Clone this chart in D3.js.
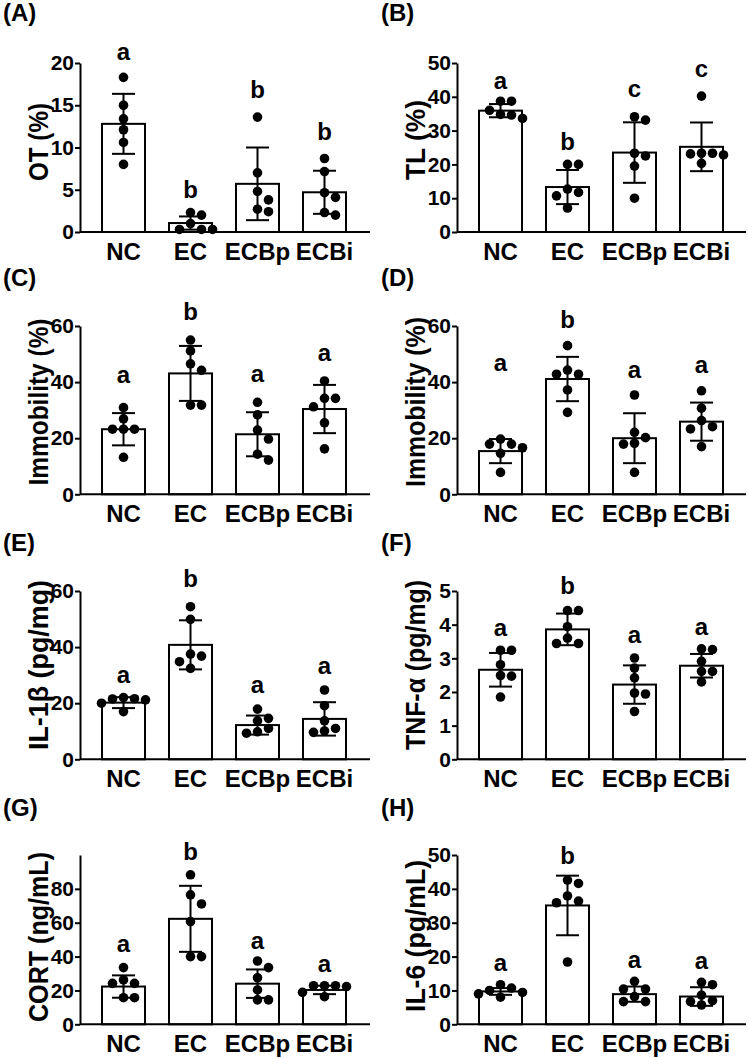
<!DOCTYPE html>
<html><head><meta charset="utf-8">
<script src="https://cdn.jsdelivr.net/npm/d3@7/dist/d3.min.js"></script>
<style>
body{margin:0;background:#fff}
svg{display:block}
text{font-family:"Liberation Sans",Arial,Helvetica,sans-serif;font-weight:bold;fill:#000}
</style>
</head><body>
<svg id="chart" width="749" height="1058"></svg>
<script>
// ---------- DATA ----------
const categories = ["NC", "EC", "ECBp", "ECBi"];
const panelTags = ["(A)", "(B)", "(C)", "(D)", "(E)", "(F)", "(G)", "(H)"];
const yTitles = ["OT (%)", "TL (%)", "Immobility (%)", "Immobility (%)", "IL-1β (pg/mg)", "TNF-α (pg/mg)", "CORT (ng/mL)", "IL-6 (pg/mL)"];
const yMax = [20, 50, 60, 60, 60, 5, 100, 50];
const yTicks = [
  [0, 5, 10, 15, 20],
  [0, 10, 20, 30, 40, 50],
  [0, 20, 40, 60],
  [0, 20, 40, 60],
  [0, 20, 40, 60],
  [0, 1, 2, 3, 4, 5],
  [0, 20, 40, 60, 80],
  [0, 10, 20, 30, 40, 50]
];

// (A) OT
const meansA = [12.8, 1.06, 5.7, 4.7];
const sdA = [3.55, 0.78, 4.3, 2.55];
const dotsA = [[18.3, 15.0, 13.4, 12.1, 10.6, 8.0], [2.0, 2.3, 1.0, 0.3, 0.3, 0.3], [13.6, 7.0, 4.8, 3.8, 2.4, 2.7], [8.7, 7.15, 4.65, 4.1, 2.0, 2.3]];
const lettersA = ["a", "b", "b", "b"];
const letterAtA = [20.3, 4.0, 15.9, 10.9];

// (B) TL
const meansB = [35.9, 13.3, 23.5, 25.2];
const sdB = [1.95, 5.05, 8.95, 7.2];
const dotsB = [[36.0, 38.7, 38.7, 33.6, 34.6, 34.8], [20.0, 20.0, 12.7, 10.7, 11.7, 7.1], [33.1, 34.1, 22.5, 23.3, 19.5, 10.0], [40.2, 23.3, 23.3, 23.1, 22.8, 20.3]];
const lettersB = ["a", "b", "c", "c"];
const letterAtB = [42.4, 24.3, 39.8, 45.9];

// (C) Immobility
const meansC = [23.2, 43.1, 21.4, 30.4];
const sdC = [5.75, 9.8, 7.85, 8.6];
const dotsC = [[30.9, 26.9, 23.2, 23.2, 23.2, 13.2], [55.0, 51.1, 46.5, 44.2, 31.8, 31.8], [32.8, 28.3, 22.9, 19.7, 12.2, 14.3], [40.4, 34.2, 34.2, 31.2, 25.5, 16.2]];
const lettersC = ["a", "b", "a", "a"];
const letterAtC = [39.6, 62.1, 40.2, 47.5];

// (D) Immobility
const meansD = [15.4, 41.1, 20.0, 25.9];
const sdD = [4.3, 7.9, 8.9, 6.8];
const dotsD = [[17.9, 17.9, 19.7, 16.6, 14.6, 7.8], [53.0, 42.8, 44.3, 42.8, 37.2, 29.2], [35.4, 20.2, 22.1, 17.9, 18.2, 7.8], [36.9, 30.7, 26.3, 24.1, 23.3, 17.0]];
const lettersD = ["a", "b", "a", "a"];
const letterAtD = [44.0, 59.4, 41.3, 43.1];

// (E) IL-1β
const meansE = [20.2, 40.8, 12.2, 14.4];
const sdE = [1.95, 8.75, 3.4, 5.95];
const dotsE = [[22.0, 21.6, 21.2, 21.5, 20.0, 17.0], [54.4, 49.9, 37.5, 36.8, 34.8, 32.4], [17.9, 14.6, 13.7, 11.0, 9.3, 9.8], [24.7, 19.1, 13.7, 11.0, 9.6, 10.1]];
const lettersE = ["a", "b", "a", "a"];
const letterAtE = [27.3, 61.3, 23.8, 30.4];

// (F) TNF-α
const meansF = [2.66, 3.86, 2.22, 2.78];
const sdF = [0.5, 0.47, 0.57, 0.35];
const dotsF = [[3.24, 3.24, 2.81, 2.49, 2.47, 1.85], [4.42, 4.42, 3.94, 3.6, 3.44, 3.44], [3.01, 2.71, 2.42, 1.97, 1.94, 1.42], [3.26, 3.28, 2.91, 2.61, 2.61, 2.30]];
const lettersF = ["a", "b", "a", "a"];
const letterAtF = [3.66, 4.90, 3.46, 3.68];

// (G) CORT
const meansG = [22.3, 62.3, 24.0, 20.3];
const sdG = [6.6, 19.5, 8.4, 2.5];
const dotsG = [[33.5, 24.2, 26.2, 24.2, 15.7, 15.7], [88.3, 76.5, 71.1, 60.7, 40.0, 40.0], [37.4, 33.5, 27.5, 20.3, 14.4, 14.4], [22.8, 22.8, 22.3, 22.8, 16.3, 18.9]];
const lettersG = ["a", "b", "a", "a"];
const letterAtG = [43.0, 97.1, 44.5, 31.1];

// (H) IL-6
const meansH = [9.7, 35.1, 8.9, 8.2];
const sdH = [1.0, 8.8, 2.25, 2.75];
const dotsH = [[10.0, 8.0, 10.7, 11.7, 9.0, 9.4], [41.6, 42.6, 37.9, 35.9, 36.4, 18.4], [12.7, 10.4, 10.4, 8.2, 6.7, 6.7], [12.4, 11.7, 8.6, 7.0, 6.7, 5.7]];
const lettersH = ["a", "b", "a", "a"];
const letterAtH = [15.6, 47.3, 16.6, 16.4];

const allMeans = [meansA, meansB, meansC, meansD, meansE, meansF, meansG, meansH];
const allSds = [sdA, sdB, sdC, sdD, sdE, sdF, sdG, sdH];
const allDots = [dotsA, dotsB, dotsC, dotsD, dotsE, dotsF, dotsG, dotsH];
const allLetters = [lettersA, lettersB, lettersC, lettersD, lettersE, lettersF, lettersG, lettersH];
const allLetterAt = [letterAtA, letterAtB, letterAtC, letterAtD, letterAtE, letterAtF, letterAtG, letterAtH];

// ---------- LAYOUT ----------
const colX = [0, 374];
const rowY = [0, 265, 530, 795];
const axisOff = [80, 83];
const axisEndOff = [370, 372];
const tagOff = [3, 7];
const baseOff = [232, 229.3, 229.3, 229.3];
const topOff = [63, 61, 61, 60];
const titleLen = [78, 80, 167, 170, 170, 170, 170, 152];
const titleMid = [142, 140, 137, 137, 135, 135, 142, 141];

const svg = d3.select("#chart");

function beeswarm(vals, y, step, minDist) {
  const order = vals.map((v, i) => i).sort((a, b) => vals[b] - vals[a]);
  const placed = [];
  const out = new Array(vals.length);
  const cands = [0, 1, -1, 2, -2, 3, -3, 4, -4];
  for (const i of order) {
    const py = y(vals[i]);
    let ox = 0;
    for (const k of cands) {
      const tx = k * step;
      const ok = placed.every(p => Math.hypot(tx - p.ox, py - p.py) >= minDist);
      if (ok) { ox = tx; break; }
    }
    placed.push({ox, py});
    out[i] = {ox, py, v: vals[i]};
  }
  return out;
}

for (let p = 0; p < 8; p++) {
  const col = p % 2, row = Math.floor(p / 2);
  const ox = colX[col], oy = rowY[row];
  const ax = ox + axisOff[col];
  const base = oy + baseOff[row];
  const top = oy + topOff[row];
  const g = svg.append("g");

  const x = d3.scaleBand().domain(categories).range([ax + 22, ax + 266]).paddingInner(0.358).paddingOuter(0);
  const y = d3.scaleLinear().domain([0, yMax[p]]).range([base, top]);
  const bw = x.bandwidth();

  // panel tag
  g.append("text").attr("x", ox + tagOff[col]).attr("y", oy + 21).attr("font-size", 24).text(panelTags[p]);

  // y title
  const tx = ax - 42, ty = oy + titleMid[p];
  g.append("text")
    .attr("transform", `translate(${tx},${ty}) rotate(-90)`)
    .attr("text-anchor", "middle").attr("dy", "0.36em")
    .attr("font-size", 28)
    .attr("textLength", titleLen[p]).attr("lengthAdjust", "spacingAndGlyphs")
    .text(yTitles[p]);

  // bars
  const means = allMeans[p], sds = allSds[p];
  g.selectAll("rect.bar").data(categories).join("rect")
    .attr("class", "bar")
    .attr("x", c => x(c)).attr("width", bw)
    .attr("y", (c, i) => y(means[i])).attr("height", (c, i) => base - y(means[i]))
    .attr("fill", "#fff").attr("stroke", "#000").attr("stroke-width", 2);

  // error bars
  const capHalf = 11.5;
  categories.forEach((c, i) => {
    const cx = x(c) + bw / 2;
    const hi = y(means[i] + sds[i]), lo = y(Math.max(0, means[i] - sds[i]));
    g.append("line").attr("x1", cx).attr("x2", cx).attr("y1", hi).attr("y2", lo).attr("stroke", "#000").attr("stroke-width", 2);
    g.append("line").attr("x1", cx - capHalf).attr("x2", cx + capHalf).attr("y1", hi).attr("y2", hi).attr("stroke", "#000").attr("stroke-width", 2);
    g.append("line").attr("x1", cx - capHalf).attr("x2", cx + capHalf).attr("y1", lo).attr("y2", lo).attr("stroke", "#000").attr("stroke-width", 2);
  });

  // dots
  categories.forEach((c, i) => {
    const cx = x(c) + bw / 2;
    const pts = beeswarm(allDots[p][i], y, 11, 9.6);
    g.selectAll(null).data(pts).join("circle")
      .attr("cx", d => cx + d.ox).attr("cy", d => d.py).attr("r", 4.8).attr("fill", "#000");
  });

  // letters
  g.selectAll("text.letter").data(categories).join("text")
    .attr("class", "letter")
    .attr("x", c => x(c) + bw / 2)
    .attr("y", (c, i) => y(allLetterAt[p][i]))
    .attr("text-anchor", "middle").attr("font-size", 24)
    .text((c, i) => allLetters[p][i]);

  // y axis
  const yAxis = g.append("g").attr("transform", `translate(${ax},0)`)
    .call(d3.axisLeft(y).tickValues(yTicks[p]).tickFormat(d3.format("d")).tickSize(5).tickSizeOuter(0).tickPadding(1));
  yAxis.attr("font-family", null).attr("font-size", null);
  yAxis.select(".domain").attr("stroke-width", 2);
  yAxis.selectAll(".tick line").attr("stroke-width", 2);
  yAxis.selectAll(".tick text").attr("font-size", 21);

  // x axis
  g.append("line").attr("x1", ax).attr("x2", ox + axisEndOff[col]).attr("y1", base).attr("y2", base)
    .attr("stroke", "#000").attr("stroke-width", 2);
  const xAxis = g.append("g").attr("transform", `translate(0,${base})`)
    .call(d3.axisBottom(x).tickSize(0).tickPadding(11));
  xAxis.attr("font-family", null).attr("font-size", null);
  xAxis.select(".domain").remove();
  xAxis.selectAll(".tick text").attr("font-size", 24);
}
</script>
</body></html>
